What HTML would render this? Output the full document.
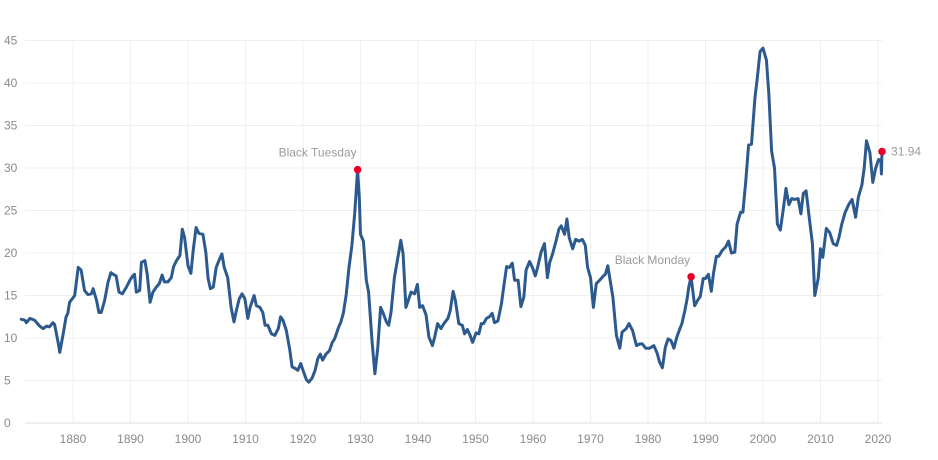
<!DOCTYPE html>
<html><head><meta charset="utf-8"><style>
html,body{margin:0;padding:0;background:#fff;}
svg{display:block;font-family:"Liberation Sans",sans-serif;}
</style></head><body>
<svg id="chart" width="938" height="460" viewBox="0 0 938 460" xmlns="http://www.w3.org/2000/svg">
<g id="grid"></g>
<g id="yaxis"></g>
<g id="xaxis"></g>
<path id="line" fill="none" stroke="#2d5a8e" stroke-width="3" stroke-linejoin="round" stroke-linecap="round"/>
<g id="marks"></g>
</svg>
<script>
const years = [1871.0,1871.6,1871.9,1872.5,1873.3,1874.2,1874.8,1875.4,1875.9,1876.5,1876.8,1877.4,1877.7,1878.3,1878.8,1879.1,1879.4,1880.3,1880.9,1881.4,1882.0,1882.6,1883.2,1883.5,1884.1,1884.5,1884.9,1885.5,1886.1,1886.6,1887.0,1887.5,1888.0,1888.6,1889.3,1889.9,1890.4,1890.7,1891.0,1891.6,1891.9,1892.5,1892.9,1893.4,1893.9,1894.5,1895.0,1895.5,1895.9,1896.5,1897.1,1897.5,1898.0,1898.6,1899.0,1899.4,1900.0,1900.5,1900.9,1901.4,1901.9,1902.6,1903.1,1903.5,1903.9,1904.4,1904.9,1905.5,1905.9,1906.3,1906.9,1907.5,1908.0,1908.4,1908.9,1909.4,1909.9,1910.4,1910.8,1911.5,1911.9,1912.5,1913.0,1913.4,1913.9,1914.5,1915.1,1915.7,1916.1,1916.5,1917.1,1917.7,1918.1,1918.7,1919.1,1919.6,1920.1,1920.6,1921.0,1921.6,1922.1,1922.6,1923.0,1923.4,1924.0,1924.6,1925.1,1925.5,1926.1,1926.6,1927.0,1927.5,1928.0,1928.5,1929.0,1929.5,1929.8,1930.0,1930.5,1931.0,1931.4,1932.0,1932.5,1933.0,1933.5,1933.9,1934.5,1934.9,1935.3,1935.9,1936.5,1937.0,1937.4,1937.9,1938.4,1938.8,1939.4,1939.9,1940.3,1940.8,1941.4,1941.9,1942.5,1942.9,1943.4,1944.0,1944.5,1945.2,1945.6,1946.1,1946.5,1947.1,1947.7,1948.1,1948.6,1949.0,1949.5,1950.1,1950.6,1951.0,1951.4,1951.9,1952.4,1952.9,1953.3,1953.9,1954.5,1954.9,1955.4,1955.9,1956.4,1956.8,1957.4,1957.9,1958.4,1958.8,1959.4,1959.9,1960.4,1960.8,1961.4,1962.0,1962.5,1962.9,1963.4,1964.0,1964.5,1964.9,1965.5,1965.9,1966.3,1966.9,1967.4,1968.0,1968.6,1969.1,1969.5,1970.0,1970.5,1971.0,1971.6,1972.1,1972.6,1973.0,1973.9,1974.5,1975.1,1975.5,1976.2,1976.7,1977.3,1978.0,1978.6,1979.0,1979.6,1980.3,1981.0,1981.6,1982.0,1982.5,1983.0,1983.5,1984.0,1984.5,1985.0,1985.5,1985.9,1986.4,1986.8,1987.1,1987.5,1988.1,1988.7,1989.1,1989.6,1990.0,1990.5,1991.0,1991.4,1991.9,1992.3,1992.9,1993.5,1994.0,1994.5,1995.1,1995.5,1996.1,1996.5,1997.0,1997.5,1998.0,1998.6,1999.0,1999.5,2000.0,2000.6,2001.0,2001.5,2002.0,2002.5,2003.0,2003.5,2004.0,2004.5,2005.0,2005.5,2006.1,2006.6,2007.0,2007.5,2008.0,2008.6,2009.0,2009.6,2010.0,2010.4,2011.0,2011.6,2012.2,2012.8,2013.2,2013.7,2014.3,2014.9,2015.5,2016.1,2016.6,2017.2,2017.6,2018.0,2018.6,2019.1,2019.6,2020.1,2020.5,2020.6,2020.7];
const cape = [12.2,12.1,11.8,12.3,12.1,11.4,11.1,11.4,11.3,11.8,11.6,9.5,8.3,10.5,12.5,12.9,14.2,15.0,18.3,18.0,15.6,15.1,15.2,15.8,14.4,13.0,13.0,14.4,16.6,17.7,17.5,17.3,15.4,15.2,16.0,16.8,17.3,17.5,15.4,15.6,18.9,19.1,17.5,14.2,15.4,16.0,16.4,17.4,16.6,16.6,17.1,18.4,19.1,19.7,22.8,21.8,18.5,17.6,20.3,23.0,22.3,22.2,20.1,17.0,15.8,16.0,18.3,19.3,19.9,18.3,17.1,13.6,11.9,13.2,14.6,15.2,14.6,12.3,13.6,15.0,13.8,13.6,13.0,11.5,11.5,10.5,10.3,11.1,12.5,12.1,10.9,8.6,6.6,6.4,6.2,7.0,6.0,5.1,4.8,5.3,6.2,7.6,8.1,7.4,8.1,8.5,9.5,9.9,11.1,11.9,12.9,15.0,18.3,20.9,24.8,29.8,26.5,22.2,21.4,16.8,15.4,9.7,5.8,8.9,13.6,13.0,11.9,11.5,13.0,17.1,19.5,21.5,19.9,13.6,14.6,15.4,15.2,16.3,13.6,13.8,12.7,10.1,9.1,10.1,11.7,11.1,11.7,12.3,13.2,15.5,14.4,11.7,11.5,10.5,11.0,10.4,9.5,10.6,10.5,11.7,11.7,12.3,12.5,12.9,11.8,12.0,14.0,16.0,18.4,18.3,18.8,16.8,16.8,13.7,14.8,18.0,19.0,18.3,17.3,18.3,20.1,21.1,17.1,18.9,19.9,21.4,22.8,23.2,22.2,24.0,21.8,20.5,21.6,21.4,21.6,20.9,18.3,17.1,13.6,16.4,16.8,17.2,17.5,18.5,14.8,10.3,8.8,10.7,11.1,11.7,10.9,9.1,9.3,9.3,8.8,8.8,9.1,8.2,7.2,6.5,8.9,9.9,9.7,8.8,10.1,11.0,11.7,13.2,14.6,16.0,17.2,13.8,14.5,14.9,17.0,17.0,17.5,15.5,17.7,19.6,19.6,20.3,20.7,21.4,20.0,20.1,23.4,24.8,24.8,28.5,32.7,32.8,38.2,40.6,43.7,44.1,42.7,38.8,32.0,30.0,23.4,22.7,25.0,27.6,25.7,26.4,26.3,26.4,24.6,27.0,27.3,24.4,21.1,15.0,17.0,20.5,19.5,22.9,22.4,21.1,20.9,21.8,23.4,24.8,25.7,26.3,24.2,26.6,28.0,30.0,33.2,31.8,28.3,30.0,31.0,30.9,29.3,31.94];
const yTicks = [0,5,10,15,20,25,30,35,40,45];
const xTicks = [1880,1890,1900,1910,1920,1930,1940,1950,1960,1970,1980,1990,2000,2010,2020];
const annotationLabels = ["Black Tuesday","Black Monday","31.94"];
const annotationYears = [1929.5,1987.5,2020.7];
const annotationValues = [29.8,17.2,31.94];

const NS="http://www.w3.org/2000/svg";
function xs(yr){return 73+(yr-1880)*5.75;}
function ys(v){return 423-v*8.5;}
function mk(tag,attrs,parent){const e=document.createElementNS(NS,tag);for(const k in attrs)e.setAttribute(k,attrs[k]);parent.appendChild(e);return e;}
const grid=document.getElementById('grid'),yax=document.getElementById('yaxis'),xax=document.getElementById('xaxis'),marks=document.getElementById('marks');
yTicks.forEach(t=>{
  const l=mk('line',{x1:25,x2:882,y1:ys(t),y2:ys(t),stroke:t===0?'#dcdcdc':'#efefef','stroke-width':1},grid);
  
  
  const tx=mk('text',{x:4,y:ys(t)+4,'font-size':12,fill:'#8a8a8a'},yax);
  
  
  tx.textContent=t;
});
xTicks.forEach(t=>{
  const l=mk('line',{x1:xs(t),x2:xs(t),y1:ys(45),y2:ys(0),stroke:'#efefef','stroke-width':1},grid);
  
  
  const tx=mk('text',{x:xs(t),y:443,'font-size':12,fill:'#8a8a8a','text-anchor':'middle'},xax);
  
  
  tx.textContent=t;
});
let d='';
years.forEach((yr,i)=>{d+=(i?'L':'M')+xs(yr).toFixed(1)+' '+ys(cape[i]).toFixed(1);});
document.getElementById('line').setAttribute('d',d);
annotationLabels.forEach((lab,i)=>{
  const cx=xs(annotationYears[i]),cy=ys(annotationValues[i]);
  const c=mk('circle',{cx:cx,cy:cy,r:3.8,fill:'#e8002b'},marks);
  
  
  let attrs;
  if(i===2) attrs={x:cx+9,y:cy+4,'text-anchor':'start'};
  else attrs={x:cx-1,y:cy-13,'text-anchor':'end'};
  attrs['font-size']=12;attrs.fill='#9a9a9a';
  const tx=mk('text',attrs,marks);
  
  
  tx.textContent=lab;
});
</script>
</body></html>
